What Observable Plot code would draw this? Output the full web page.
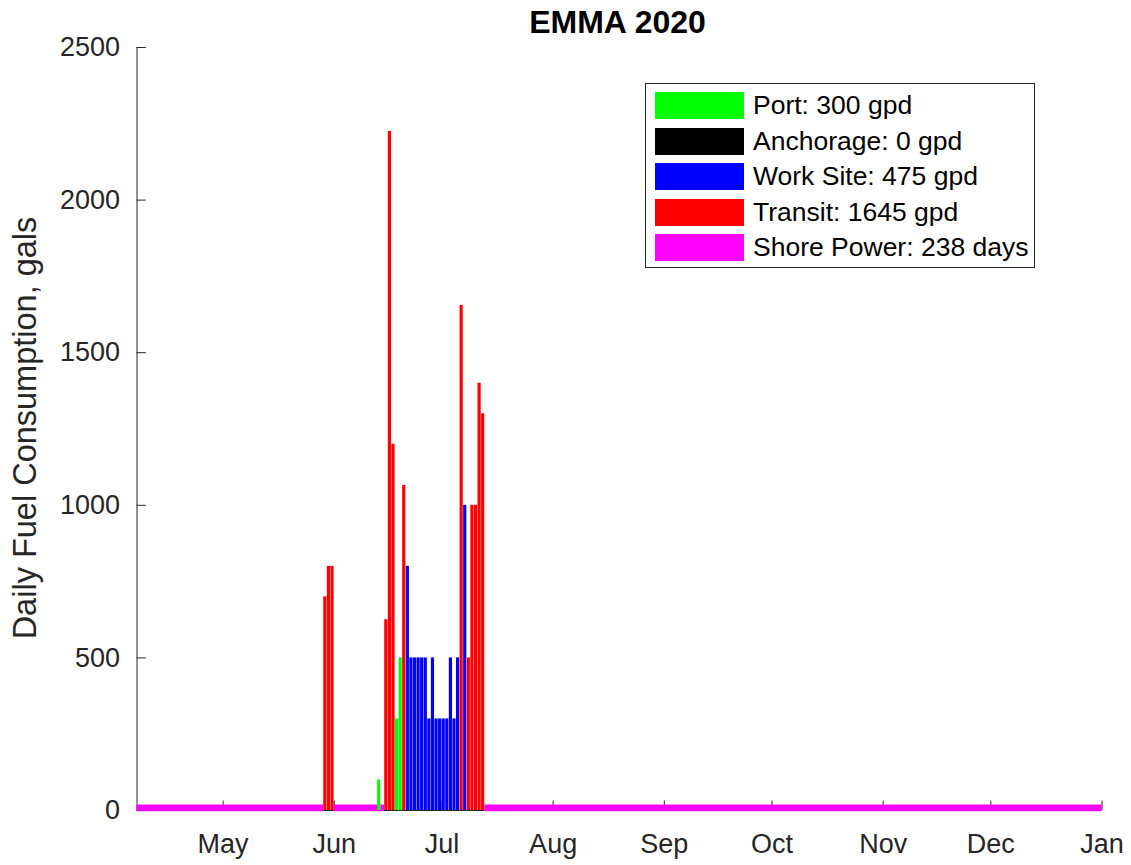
<!DOCTYPE html>
<html>
<head>
<meta charset="utf-8">
<script src="https://cdn.jsdelivr.net/npm/d3@7"></script>
<script src="https://cdn.jsdelivr.net/npm/@observablehq/plot@0.6"></script>
<style>
  html, body { margin: 0; padding: 0; background: #fff; }
  #wrap { position: relative; width: 1131px; height: 865px; font-family: "Liberation Sans", Arial, sans-serif; color: #262626; }
  #title { position: absolute; left: 0; width: 1235px; top: 4px; text-align: center; font-weight: bold; font-size: 32px; color: #000; }
  #ylabel { position: absolute; left: 25px; top: 428px; transform: translate(-50%, -50%) rotate(-90deg); white-space: nowrap; font-size: 32.5px; color: #262626; }
  #legend { position: absolute; left: 645px; top: 83px; width: 390px; height: 185px; border: 1px solid #262626; background: #fff; box-sizing: border-box; }
  .row { position: absolute; left: 9px; height: 27px; display: flex; align-items: center; }
  .sw { width: 89px; height: 27px; margin-right: 9px; }
  .lt { font-size: 26.5px; color: #000; white-space: nowrap; line-height: 27px; }
</style>
</head>
<body>
<div id="wrap">
  <div id="chart"></div>
  <div id="title">EMMA 2020</div>
  <div id="ylabel">Daily Fuel Consumption, gals</div>
  <div id="legend"></div>
</div>
<script>
// ---- data ----
const transitDates = ["2020-05-29","2020-05-30","2020-05-31","2020-06-15","2020-06-16","2020-06-17","2020-06-20","2020-07-06","2020-07-08","2020-07-09","2020-07-10","2020-07-11","2020-07-12"];
const transitValues = [700, 800, 800, 625, 2225, 1200, 1065, 1655, 500, 1000, 1000, 1400, 1300];

const portDates = ["2020-06-13","2020-06-18","2020-06-19"];
const portValues = [100, 300, 500];

const workDates = ["2020-06-21","2020-06-22","2020-06-23","2020-06-24","2020-06-25","2020-06-26","2020-06-27","2020-06-28","2020-06-29","2020-06-30","2020-07-01","2020-07-02","2020-07-03","2020-07-04","2020-07-05","2020-07-07"];
const workValues = [800, 500, 500, 500, 500, 500, 300, 500, 300, 300, 300, 300, 500, 300, 500, 1000];

const anchorageDates = [];
const anchorageValues = [];

// shore power periods (start, end exclusive)
const shoreStarts = ["2020-04-07","2020-06-01","2020-06-14","2020-07-13"];
const shoreEnds   = ["2020-05-29","2020-06-14","2020-06-15","2021-01-01"];
const shoreLevel = 18;

const monthTicks = ["2020-05-01","2020-06-01","2020-07-01","2020-08-01","2020-09-01","2020-10-01","2020-11-01","2020-12-01","2021-01-01"];
const yTicks = [0, 500, 1000, 1500, 2000, 2500];

const legendLabels = ["Port: 300 gpd","Anchorage: 0 gpd","Work Site: 475 gpd","Transit: 1645 gpd","Shore Power: 238 days"];
const legendColors = ["#00ff00","#000000","#0000ff","#ff0000","#ff00ff"];

// ---- build ----
const parse = d3.utcParse("%Y-%m-%d");
const DAY = 864e5;
const xStart = parse("2020-04-07"), xEnd = parse("2021-01-01");
const mk = (dates, vals) => dates.map((d, i) => ({x1: parse(d), x2: new Date(+parse(d) + DAY), v: vals[i]}));
const transit = mk(transitDates, transitValues);
const port = mk(portDates, portValues);
const work = mk(workDates, workValues);
const anchorage = mk(anchorageDates, anchorageValues);
const shore = shoreStarts.map((s, i) => ({x1: parse(s), x2: parse(shoreEnds[i])}));
const mt = monthTicks.map(parse);
const ax = "#262626";

const bar = (data, fill) => Plot.rect(data, {x1: "x1", x2: "x2", y1: 0, y2: "v", fill, insetLeft: 0.2, insetRight: 0.2});

const chart = Plot.plot({
  width: 1131, height: 865,
  marginLeft: 136.5, marginRight: 29.5, marginTop: 47, marginBottom: 55,
  style: {fontFamily: '"Liberation Sans", Arial, sans-serif', fontSize: "27px", color: ax, background: "#fff"},
  x: {type: "utc", domain: [xStart, xEnd]},
  y: {domain: [0, 2500]},
  marks: [
    Plot.ruleY([0], {x1: xStart, x2: xEnd, stroke: ax}),
    Plot.ruleX([xStart], {y1: 0, y2: 2500, stroke: ax}),
    Plot.ruleX(mt, {x: d => d, y1: 0, y2: 31, stroke: ax}),
    Plot.ruleY(yTicks, {y: d => d, x1: xStart, x2: new Date(+xStart + 2.6 * DAY), stroke: ax}),
    Plot.rect(shore, {x1: "x1", x2: "x2", y1: -4, y2: shoreLevel, fill: "#ff00ff"}),
    bar(anchorage, "#000000"),
    bar(port, "#00ff00"),
    bar(work, "#0000ff"),
    bar(transit, "#ff0000"),
    Plot.axisX({ticks: mt, tickFormat: d3.utcFormat("%b"), tickSize: 0, tickPadding: 23, label: null, fill: ax}),
    Plot.axisY({ticks: yTicks, tickFormat: d => String(d), tickSize: 0, tickPadding: 17, label: null, fill: ax})
  ]
});
document.getElementById("chart").appendChild(chart);

const lg = document.getElementById("legend");
legendLabels.forEach((t, i) => {
  const row = document.createElement("div");
  row.className = "row";
  row.style.top = (8 + i * 35.5) + "px";
  row.innerHTML = `<div class="sw" style="background:${legendColors[i]}"></div><div class="lt">${t}</div>`;
  lg.appendChild(row);
});
</script>
</body>
</html>
